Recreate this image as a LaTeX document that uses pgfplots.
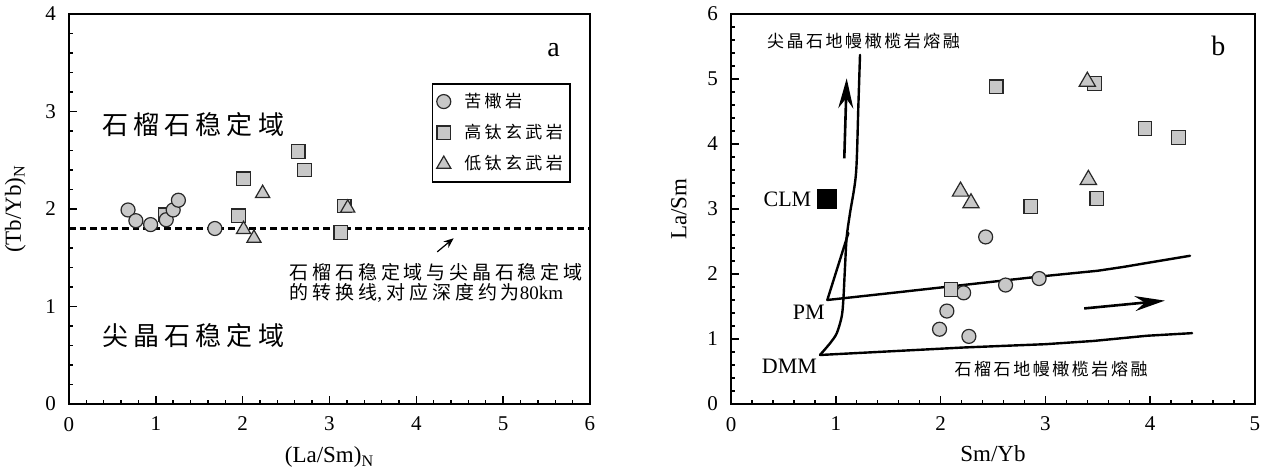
\documentclass[border=0pt]{standalone}
\usepackage{fontspec}
\setmainfont{Liberation Serif}
\newfontfamily\cjk{Noto Sans CJK SC}
\newfontfamily\cjkW[LetterSpace=20]{Noto Sans CJK SC}
\newfontfamily\cjkN[LetterSpace=15]{Noto Sans CJK SC}
\usepackage{pgfplots}
\pgfplotsset{compat=1.18}
\usetikzlibrary{arrows.meta}

\definecolor{mfill}{RGB}{200,200,200}
\definecolor{medge}{RGB}{40,40,40}

\pgfplotsset{
  base/.style={
    scale only axis, height=195pt,
    axis line style={line width=1pt},
    tick align=inside, tick pos=left,
    major tick length=3.8pt, minor tick length=2.2pt,
    tick style={line width=0.7pt, black},
    minor x tick num=4, minor y tick num=4,
    /pgf/number format/assume math mode=true,
    ticklabel style={font=\fontsize{10.5}{12}\selectfont},
    xticklabel style={yshift=-3pt},
    yticklabel style={xshift=-3pt},
    label style={font=\fontsize{11.5}{13}\selectfont},
    clip=false,
  },
  circ/.style={only marks, mark=*, mark size=3.5pt,
    mark options={fill=mfill, draw=medge, line width=0.6pt}},
  sq/.style={only marks, mark=square*, mark size=3.4pt,
    mark options={fill=mfill, draw=medge, line width=0.6pt}},
  tri/.style={only marks, mark=triangle*, mark size=#1,
    mark options={fill=mfill, draw=medge, line width=0.6pt}},
  tri/.default=4.1pt,
  curve/.style={line width=1.2pt, black, line join=round, line cap=round},
}

\begin{document}
\begin{tikzpicture}
\path[use as bounding box] (-34.5pt,-33pt) rectangle (601pt,202pt);

% ---------------- panel a ----------------
\begin{axis}[base, width=260.5pt,
  xmin=0, xmax=6, ymin=0, ymax=4,
  xtick={0,1,2,3,4,5,6}, ytick={0,1,2,3,4},
  xlabel={(La/Sm)\textsubscript{N}},
  ylabel={(Tb/Yb)\textsubscript{N}},
  xlabel style={at={(axis description cs:0.5,-0.108)}, anchor=north, inner sep=0pt},
  ylabel style={at={(axis description cs:-0.082,0.5)}, anchor=south, inner sep=0pt},
  legend style={at={(axis description cs:0.6967,0.8225)}, anchor=north west,
    draw=black, line width=0.7pt, inner xsep=2pt, inner ysep=3pt,
    row sep=4pt, column sep=5.2pt,
    font=\cjkW\fontsize{8.5}{10}\selectfont,
    nodes={inner sep=1.5pt}},
  legend cell align=left,
  legend image code/.code={\draw[mark repeat=2,mark phase=2,#1]
     plot coordinates {(0pt,0pt)(3.5pt,0pt)(7pt,0pt)};},
]
\addlegendimage{circ}
\addlegendentry{苦橄岩}
\addlegendimage{sq}
\addlegendentry{高钛玄武岩}
\addlegendimage{tri}
\addlegendentry{低钛玄武岩}

\addplot[forget plot, line width=1.3pt, black, dash pattern=on 3.3pt off 2pt]
  coordinates {(0,1.80) (6,1.80)};

\addplot[forget plot, sq] coordinates {
  (1.11,1.94) (2.01,2.31) (1.95,1.93) (2.64,2.59) (2.71,2.40) (3.17,2.03) (3.13,1.76)};
\addplot[forget plot, circ] coordinates {
  (0.68,1.99) (0.77,1.88) (0.94,1.84) (1.12,1.89) (1.20,1.99) (1.26,2.09) (1.68,1.80)};
\addplot[forget plot, tri] coordinates {
  (2.23,2.16) (2.01,1.79) (2.13,1.70) (3.21,2.01)};

\addplot[forget plot, line width=0.6pt, black, -{Stealth[length=5pt,width=4pt]}]
  coordinates {(4.24,1.56) (4.43,1.70)};

\node[anchor=west, inner sep=0pt, font=\cjkW\fontsize{13}{15}\selectfont]
  at (axis cs:0.376,2.87) {石榴石稳定域};
\node[anchor=west, inner sep=0pt, font=\cjkW\fontsize{13}{15}\selectfont]
  at (axis cs:0.376,0.70) {尖晶石稳定域};
\node[anchor=west, inner sep=0pt, font=\cjkW\fontsize{9.5}{11}\selectfont]
  at (axis cs:2.54,1.35) {石榴石稳定域与尖晶石稳定域};
\node[anchor=west, inner sep=0pt, font=\cjkW\fontsize{9.5}{11}\selectfont]
  at (axis cs:2.54,1.14) {的转换线{\rmfamily, }对应深度约为{\rmfamily 80km}};
\node[anchor=base, inner sep=0pt, font=\fontsize{14}{16}\selectfont]
  at (axis cs:5.58,3.56) {a};
\end{axis}

% ---------------- panel b ----------------
\begin{axis}[base, width=262pt, at={(331pt,0pt)}, anchor=south west,
  xmin=0, xmax=5, ymin=0, ymax=6,
  xtick={0,1,2,3,4,5}, ytick={0,1,2,3,4,5,6},
  xlabel={Sm/Yb}, ylabel={La/Sm},
  xlabel style={at={(axis description cs:0.5,-0.105)}, anchor=north, inner sep=0pt},
  ylabel style={at={(axis description cs:-0.084,0.5)}, anchor=south, inner sep=0pt},
]
% spinel melting curve
\addplot[curve, smooth, tension=0.5] coordinates {
  (0.849,0.754) (0.945,0.934) (1.009,1.088) (1.056,1.343) (1.072,1.60)
  (1.088,2.11) (1.104,2.57) (1.135,2.93) (1.193,3.55) (1.215,4.57) (1.231,5.37)};
% PM line
\addplot[curve] coordinates {
  (1.12,2.63) (0.919,1.60) (1.60,1.72) (2.10,1.81) (2.94,1.96) (3.50,2.05)
  (3.75,2.11) (3.97,2.17) (4.38,2.28)};
% DMM line
\addplot[curve] coordinates {
  (0.849,0.754) (2.23,0.87) (3.00,0.92) (3.46,0.97) (3.97,1.05) (4.40,1.09)};

% arrows
\addplot[line width=1.3pt, black, -{Stealth[length=15pt,width=7.5pt,inset=5pt]}]
  coordinates {(1.081,3.78) (1.104,5.01)};
\addplot[line width=1.3pt, black, -{Stealth[length=15pt,width=7.5pt,inset=5pt]}]
  coordinates {(3.37,1.47) (4.14,1.59)};

% CLM
\addplot[only marks, mark=square*, mark size=4.7pt, mark options={fill=black, draw=black}]
  coordinates {(0.913,3.157)};

\addplot[circ] coordinates {
  (2.43,2.57) (2.94,1.93) (2.62,1.83) (2.22,1.71) (2.06,1.43) (1.99,1.15) (2.27,1.04)};
\addplot[sq] coordinates {
  (2.53,4.88) (3.47,4.93) (3.95,4.24) (4.27,4.10) (2.86,3.04) (3.49,3.16) (2.10,1.76)};
\addplot[tri=4.7pt] coordinates {
  (3.40,4.96) (3.41,3.45) (2.19,3.27) (2.29,3.09)};

\node[anchor=west, inner sep=0pt, font=\cjkN\fontsize{8.5}{10}\selectfont]
  at (axis cs:0.34,5.59) {尖晶石地幔橄榄岩熔融};
\node[anchor=west, inner sep=0pt, font=\cjkN\fontsize{8.5}{10}\selectfont]
  at (axis cs:2.13,0.54) {石榴石地幔橄榄岩熔融};
\node[anchor=base east, inner sep=0pt, font=\fontsize{11}{13}\selectfont]
  at (axis cs:0.77,3.04) {CLM};
\node[anchor=base east, inner sep=0pt, font=\fontsize{11}{13}\selectfont]
  at (axis cs:0.897,1.30) {PM};
\node[anchor=base east, inner sep=0pt, font=\fontsize{11}{13}\selectfont]
  at (axis cs:0.824,0.47) {DMM};
\node[anchor=base, inner sep=0pt, font=\fontsize{14}{16}\selectfont]
  at (axis cs:4.65,5.36) {b};
\end{axis}
\end{tikzpicture}
\end{document}
